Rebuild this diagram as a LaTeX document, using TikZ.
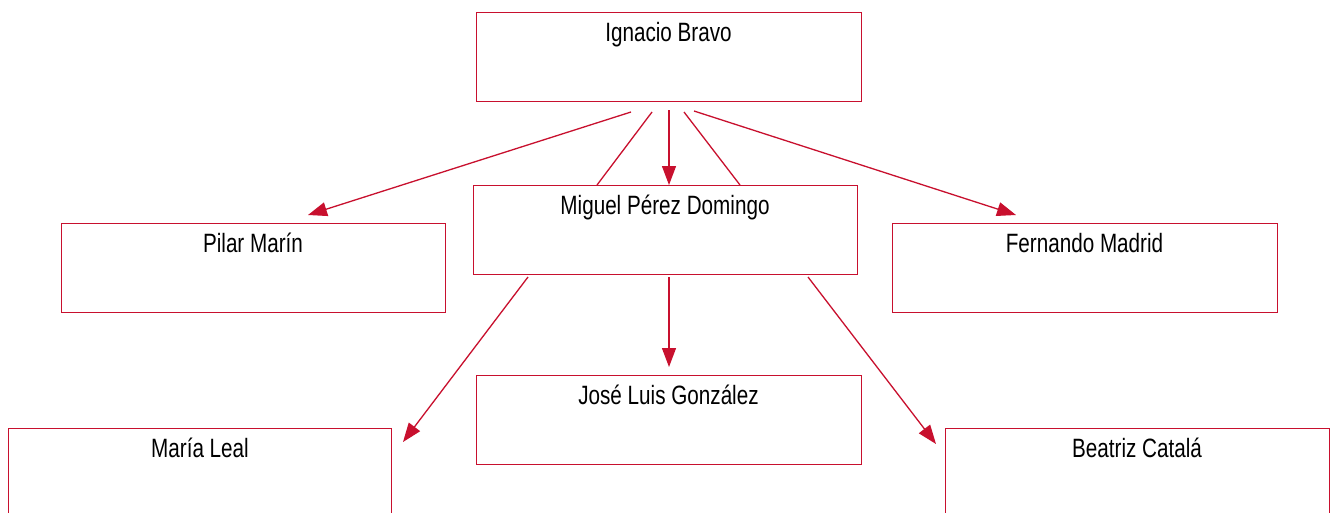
\documentclass[tikz,border=0pt]{standalone}
\usepackage{fontspec}
\setmainfont{Liberation Sans}[FakeStretch=0.78]
\usetikzlibrary{arrows.meta}
\definecolor{crim}{RGB}{200,16,46}
\begin{document}
\begin{tikzpicture}[x=1pt,y=-1pt,
  person/.style={draw=crim,line width=1.4pt,fill=white},
  lbl/.style={anchor=base,inner sep=0pt,font=\fontsize{26.5}{30}\selectfont},
  link/.style={draw=crim,line width=1.3pt},
  arr/.style={link,-{Triangle[length=19pt,width=14pt]}}]
\useasboundingbox (0,0) rectangle (1330,512);
\clip (0,0) rectangle (1330,512);
\fill[white] (0,0) rectangle (1330,512);
% boxes
\node[person,minimum width=385pt,minimum height=89pt,anchor=north west] (ib) at (476,12) {};
\node[person,minimum width=384pt,minimum height=89pt,anchor=north west] (pm) at (61,223) {};
\node[person,minimum width=384pt,minimum height=89pt,anchor=north west] (mp) at (473,185) {};
\node[person,minimum width=385pt,minimum height=89pt,anchor=north west] (fm) at (892,223) {};
\node[person,minimum width=385pt,minimum height=89pt,anchor=north west] (jl) at (476,375) {};
\node[person,minimum width=383pt,minimum height=110pt,anchor=north west] (ml) at (8,428) {};
\node[person,minimum width=384pt,minimum height=110pt,anchor=north west] (bc) at (945,428) {};
% labels
\node[lbl] (tib) at (668.5,41) {Ignacio Bravo};
\node[lbl] (tpm) at (253,252) {Pilar Marín};
\node[lbl] (tmp) at (665,214) {Miguel Pérez Domingo};
\node[lbl] (tfm) at (1084.5,252) {Fernando Madrid};
\node[lbl] (tjl) at (668.5,404) {José Luis González};
\node[lbl] (tml) at (200,457) {María Leal};
\node[lbl] (tbc) at (1137,457) {Beatriz Catalá};
% connector end points
\coordinate (a1) at (631,112); \coordinate (b1) at (308,215);
\coordinate (a2) at (669,110); \coordinate (b2) at (669,185);
\coordinate (a3) at (694,111); \coordinate (b3) at (1016,215);
\coordinate (a4) at (652,112); \coordinate (b4) at (597,185);
\coordinate (a5) at (684,112); \coordinate (b5) at (740,185);
\coordinate (c1) at (528,277); \coordinate (d1) at (403,442);
\coordinate (c2) at (669,277); \coordinate (d2) at (669,367);
\coordinate (c3) at (808,277); \coordinate (d3) at (936,444);
\draw[arr] (a1) -- (b1);
\draw[arr] (a2) -- (b2);
\draw[arr] (a3) -- (b3);
\draw[link] (a4) -- (b4);
\draw[link] (a5) -- (b5);
\draw[arr] (c1) -- (d1);
\draw[arr] (c2) -- (d2);
\draw[arr] (c3) -- (d3);
\end{tikzpicture}
\end{document}
